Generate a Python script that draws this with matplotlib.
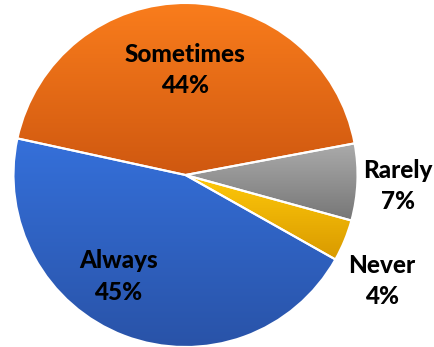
import matplotlib.pyplot as plt
import numpy as np
from matplotlib.colors import LinearSegmentedColormap

labels = ['Always', 'Sometimes', 'Rarely', 'Never']
values = [45.2, 43.6, 7.2, 3.9]
pct_text = ['45%', '44%', '7%', '4%']

# gradient colours per slice (top, bottom)
grads = [('#3570DA', '#2953A8'),
         ('#FA7D1C', '#CF5810'),
         ('#ABABAB', '#767676'),
         ('#FFC90A', '#D99A00')]

# label positions in pie units (radius = 1)
label_pos = [(-0.39, -0.59), (0.0, 0.61), (1.235, -0.064), (1.142, -0.616)]

fig = plt.figure(figsize=(4.34, 3.47), dpi=100)
ax = fig.add_axes([0, 0, 1, 1])

wedges, _ = ax.pie(values, startangle=-29.4, counterclock=False, radius=1,
                   wedgeprops=dict(edgecolor='white', linewidth=1.5))

for w, (c_top, c_bot) in zip(wedges, grads):
    bb = w.get_path().get_extents()
    cmap = LinearSegmentedColormap.from_list('g', [c_top, c_bot])
    grad = np.linspace(0, 1, 256).reshape(-1, 1)
    im = ax.imshow(grad, cmap=cmap, aspect='auto', origin='upper',
                   extent=[bb.x0, bb.x1, bb.y0, bb.y1], zorder=1)
    im.set_clip_path(w)
    w.set_facecolor('none')
    w.set_zorder(2)

for lab, pct, (x, y) in zip(labels, pct_text, label_pos):
    ax.text(x, y, f'{lab}\n{pct}', ha='center', va='center',
            fontsize=17.5, fontweight='black', family='Lato',
            linespacing=1.45, color='black', zorder=3)

px = 172.0
ax.set_xlim(-185.5 / px, (434 - 185.5) / px)
ax.set_ylim(-(347 - 175) / px, 175 / px)
ax.set_aspect('auto')
ax.axis('off')

fig.savefig('out.png', dpi=100)
